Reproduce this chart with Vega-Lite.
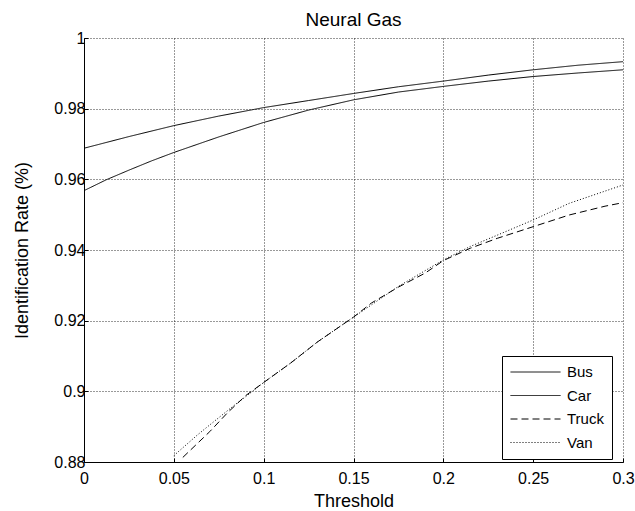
{
  "$schema": "https://vega.github.io/schema/vega-lite/v6.json",
  "autosize": "none",
  "width": 539,
  "height": 424,
  "padding": {"left": 84, "top": 38, "right": 12, "bottom": 49},
  "background": "white",
  "title": {"text": "Neural Gas", "font": "Liberation Sans", "fontSize": 19, "fontWeight": "normal", "color": "#000", "offset": 0},
  "data": {"values": [
    {"series": "Bus", "t": 0, "rate": 0.9688},
    {"series": "Bus", "t": 0.025, "rate": 0.9721},
    {"series": "Bus", "t": 0.05, "rate": 0.9752},
    {"series": "Bus", "t": 0.075, "rate": 0.9779},
    {"series": "Bus", "t": 0.1, "rate": 0.9803},
    {"series": "Bus", "t": 0.125, "rate": 0.9823},
    {"series": "Bus", "t": 0.15, "rate": 0.9843},
    {"series": "Bus", "t": 0.175, "rate": 0.9862},
    {"series": "Bus", "t": 0.2, "rate": 0.9878},
    {"series": "Bus", "t": 0.225, "rate": 0.9895},
    {"series": "Bus", "t": 0.25, "rate": 0.991},
    {"series": "Bus", "t": 0.275, "rate": 0.9923},
    {"series": "Bus", "t": 0.3, "rate": 0.9933},
    {"series": "Car", "t": 0, "rate": 0.9568},
    {"series": "Car", "t": 0.0125, "rate": 0.9599},
    {"series": "Car", "t": 0.025, "rate": 0.9626},
    {"series": "Car", "t": 0.0375, "rate": 0.9652},
    {"series": "Car", "t": 0.05, "rate": 0.9676},
    {"series": "Car", "t": 0.075, "rate": 0.972},
    {"series": "Car", "t": 0.1, "rate": 0.9761},
    {"series": "Car", "t": 0.125, "rate": 0.9796},
    {"series": "Car", "t": 0.15, "rate": 0.9825},
    {"series": "Car", "t": 0.175, "rate": 0.9847},
    {"series": "Car", "t": 0.2, "rate": 0.9863},
    {"series": "Car", "t": 0.225, "rate": 0.9878},
    {"series": "Car", "t": 0.25, "rate": 0.9891},
    {"series": "Car", "t": 0.275, "rate": 0.9901},
    {"series": "Car", "t": 0.3, "rate": 0.991},
    {"series": "Truck", "t": 0.055, "rate": 0.8813},
    {"series": "Truck", "t": 0.07, "rate": 0.8886},
    {"series": "Truck", "t": 0.08, "rate": 0.894},
    {"series": "Truck", "t": 0.09, "rate": 0.8988},
    {"series": "Truck", "t": 0.1, "rate": 0.9025},
    {"series": "Truck", "t": 0.115, "rate": 0.908},
    {"series": "Truck", "t": 0.13, "rate": 0.914},
    {"series": "Truck", "t": 0.15, "rate": 0.921},
    {"series": "Truck", "t": 0.16, "rate": 0.925},
    {"series": "Truck", "t": 0.175, "rate": 0.9295},
    {"series": "Truck", "t": 0.19, "rate": 0.9335},
    {"series": "Truck", "t": 0.2, "rate": 0.937},
    {"series": "Truck", "t": 0.215, "rate": 0.9405},
    {"series": "Truck", "t": 0.23, "rate": 0.9433},
    {"series": "Truck", "t": 0.25, "rate": 0.9466},
    {"series": "Truck", "t": 0.27, "rate": 0.9499},
    {"series": "Truck", "t": 0.29, "rate": 0.9524},
    {"series": "Truck", "t": 0.3, "rate": 0.9534},
    {"series": "Van", "t": 0.05, "rate": 0.8818},
    {"series": "Van", "t": 0.063, "rate": 0.8876},
    {"series": "Van", "t": 0.07, "rate": 0.8905},
    {"series": "Van", "t": 0.083, "rate": 0.8958},
    {"series": "Van", "t": 0.09, "rate": 0.8985},
    {"series": "Van", "t": 0.1, "rate": 0.9025},
    {"series": "Van", "t": 0.115, "rate": 0.908},
    {"series": "Van", "t": 0.13, "rate": 0.914},
    {"series": "Van", "t": 0.15, "rate": 0.921},
    {"series": "Van", "t": 0.175, "rate": 0.9297},
    {"series": "Van", "t": 0.2, "rate": 0.9372},
    {"series": "Van", "t": 0.215, "rate": 0.941},
    {"series": "Van", "t": 0.23, "rate": 0.9442},
    {"series": "Van", "t": 0.25, "rate": 0.9485},
    {"series": "Van", "t": 0.27, "rate": 0.9532},
    {"series": "Van", "t": 0.3, "rate": 0.9584}
  ]},
  "mark": {"type": "line", "clip": true, "strokeWidth": 1},
  "encoding": {
    "x": {
      "field": "t", "type": "quantitative",
      "scale": {"domain": [0, 0.3], "nice": false, "zero": false},
      "axis": {"title": "Threshold", "values": [0, 0.05, 0.1, 0.15, 0.2, 0.25, 0.3], "format": "~g", "labelPadding": 12, "titlePadding": 6}
    },
    "y": {
      "field": "rate", "type": "quantitative",
      "scale": {"domain": [0.88, 1], "nice": false, "zero": false},
      "axis": {"title": "Identification Rate (%)", "values": [0.88, 0.9, 0.92, 0.94, 0.96, 0.98, 1], "format": "~g", "labelPadding": 3, "titlePadding": 22}
    },
    "color": {
      "field": "series", "type": "nominal",
      "scale": {"domain": ["Bus", "Car", "Truck", "Van"], "range": ["#000", "#000", "#000", "#000"]},
      "legend": {"title": null}
    },
    "strokeDash": {
      "field": "series", "type": "nominal",
      "scale": {"domain": ["Bus", "Car", "Truck", "Van"], "range": [[1, 0], [1, 0], [7, 4], [1, 2]]},
      "legend": {"title": null}
    }
  },
  "config": {
    "view": {"stroke": null},
    "font": "Liberation Sans",
    "axis": {
      "domainColor": "#000",
      "domainWidth": 1,
      "tickColor": "#000",
      "tickSize": -4,
      "labelColor": "#000",
      "labelFont": "Liberation Sans",
      "labelFontSize": 16,
      "titleColor": "#000",
      "titleFont": "Liberation Sans",
      "titleFontSize": 18,
      "titleFontWeight": "normal",
      "grid": true,
      "gridColor": "#000",
      "gridDash": [1, 2],
      "gridOpacity": 0.8,
      "gridWidth": 1,
      "labelFlush": false,
      "labelOverlap": false
    },
    "legend": {
      "orient": "none",
      "legendX": 418,
      "legendY": 318,
      "strokeColor": "#000",
      "fillColor": "#fff",
      "padding": 8,
      "symbolType": "stroke",
      "symbolSize": 2500,
      "symbolStrokeWidth": 1,
      "symbolStrokeColor": "#000",
      "labelFont": "Liberation Sans",
      "labelFontSize": 15,
      "labelColor": "#000",
      "labelOffset": 6,
      "clipHeight": 16,
      "rowPadding": 7.5
    }
  }
}
